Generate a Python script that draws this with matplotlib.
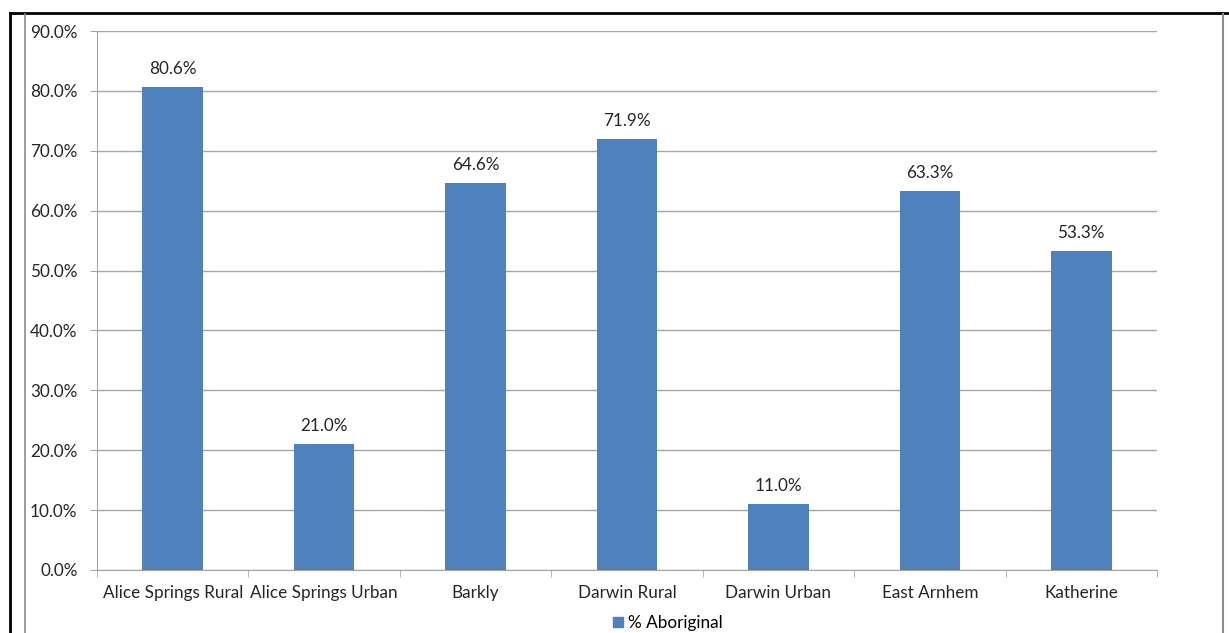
import matplotlib
matplotlib.use("Agg")
import matplotlib.pyplot as plt
from matplotlib.lines import Line2D
from matplotlib.ticker import FuncFormatter, MultipleLocator

regions = ["Alice Springs Rural", "Alice Springs Urban", "Barkly", "Darwin Rural",
           "Darwin Urban", "East Arnhem", "Katherine"]
pct_aboriginal = [80.6, 21.0, 64.6, 71.9, 11.0, 63.3, 53.3]
series_name = "% Aboriginal"

BAR = "#4F81BD"
GRID = "#A6A6A6"
TXT = "#262626"
FS = 12.3

plt.rcParams["font.family"] = ["Lato", "DejaVu Sans"]

fig = plt.figure(figsize=(12.29, 6.33), dpi=100)
ax = fig.add_axes([97 / 1229, 1 - 570 / 633, 1060 / 1229, 539 / 633])

x = list(range(len(regions)))
ax.bar(x, pct_aboriginal, width=0.4, color=BAR, zorder=3, label=series_name)
for xi, v in zip(x, pct_aboriginal):
    ax.text(xi, v + 1.7, f"{v:.1f}%", ha="center", va="bottom", fontsize=FS, color=TXT)

ax.set_xlim(-0.5, len(regions) - 0.5)
ax.set_ylim(0, 90)
ax.yaxis.set_major_locator(MultipleLocator(10))
ax.yaxis.set_major_formatter(FuncFormatter(lambda v, _: f"{v:.1f}%"))
ax.grid(axis="y", color=GRID, lw=1, zorder=0)
ax.set_xticks(x)
ax.set_xticklabels(regions)
ax.set_xticks([i - 0.5 for i in range(len(regions) + 1)], minor=True)
ax.tick_params(axis="x", which="major", length=0, pad=11, labelsize=FS, labelcolor=TXT)
ax.tick_params(axis="x", which="minor", length=5, color=GRID, direction="out")
ax.tick_params(axis="y", length=5, color=GRID, pad=9, labelsize=FS, labelcolor=TXT)
for s in ("top", "right"):
    ax.spines[s].set_visible(False)
for s in ("left", "bottom"):
    ax.spines[s].set_color(GRID)

handle = plt.Rectangle((0, 0), 1, 1, color=BAR)
fig.legend([handle], [series_name], loc="center", bbox_to_anchor=(668 / 1229, 1 - 623 / 633),
           frameon=False, fontsize=FS, handlelength=0.6, handleheight=0.6, handletextpad=0.3)

# outer frame lines of the original screenshot
fig.add_artist(Line2D([10 / 1229, 1], [1 - 13 / 633] * 2, color="black", lw=2, transform=fig.transFigure))
fig.add_artist(Line2D([10 / 1229] * 2, [0, 1 - 13 / 633], color="black", lw=2, transform=fig.transFigure))
fig.add_artist(Line2D([25 / 1229] * 2, [0, 1 - 14 / 633], color="#8C8C8C", lw=1.2, transform=fig.transFigure))
fig.add_artist(Line2D([1223 / 1229] * 2, [0, 1 - 14 / 633], color="#8C8C8C", lw=1.5, transform=fig.transFigure))

fig.savefig("out.png", dpi=100)
